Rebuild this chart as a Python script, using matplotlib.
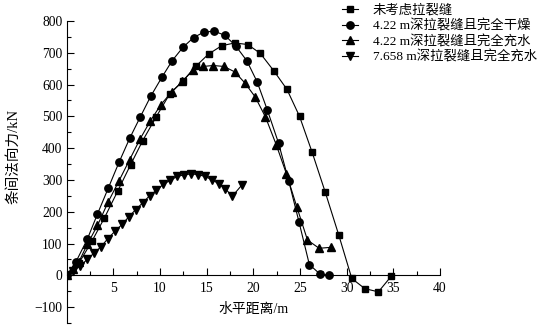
import matplotlib
matplotlib.use("Agg")
import matplotlib.pyplot as plt
from matplotlib.ticker import MultipleLocator, FixedLocator

plt.rcParams["font.family"] = ["Liberation Serif", "Noto Sans CJK SC"]
plt.rcParams["axes.unicode_minus"] = True

# 未考虑拉裂缝
x_nocrack = [0, 1.3, 2.7, 4.05, 5.45, 6.85, 8.15, 9.6, 11.05, 12.45, 13.85, 15.2, 16.6,
             18.0, 19.4, 20.75, 22.2, 23.6, 24.95, 26.3, 27.7, 29.15, 30.55, 31.95, 33.4, 34.8]
y_nocrack = [0, 38, 107, 181, 264, 348, 424, 499, 571, 611, 658, 696, 722,
             731, 726, 698, 643, 585, 500, 387, 262, 127, -10, -42, -52, -2]

# 4.22 m深拉裂缝且完全干燥
x_dry = [0, 1.0, 2.2, 3.3, 4.45, 5.6, 6.75, 7.9, 9.0, 10.2, 11.3, 12.45, 13.6,
         14.7, 15.8, 16.95, 18.1, 19.3, 20.4, 21.5, 22.7, 23.8, 24.9, 26.0, 27.1, 28.1]
y_dry = [0, 43, 113, 193, 274, 355, 431, 499, 563, 623, 675, 717, 748,
         765, 768, 755, 722, 675, 609, 520, 416, 296, 167, 34, 5, 0]

# 4.22 m深拉裂缝且完全充水
x_wet = [0, 0.65, 1.3, 2.2, 3.3, 4.45, 5.6, 6.75, 7.85, 8.95, 10.1, 11.25, 12.4, 13.5,
         14.6, 15.7, 16.85, 18.0, 19.1, 20.2, 21.3, 22.45, 23.55, 24.65, 25.8, 27.05, 28.3]
y_wet = [0, 20, 42, 97, 157, 231, 297, 364, 428, 485, 537, 577, 610, 645,
         657, 660, 657, 640, 605, 561, 498, 411, 319, 216, 111, 85, 88]

# 7.658 m深拉裂缝且完全充水
x_deep = [0, 0.64, 1.43, 2.2, 2.97, 3.68, 4.4, 5.18, 5.93, 6.65, 7.4, 8.15, 8.9, 9.6,
          10.35, 11.1, 11.85, 12.57, 13.3, 14.07, 14.8, 15.55, 16.3, 17.0, 17.75, 18.8]
y_deep = [0, 14, 29, 50, 71, 90, 115, 139, 160, 184, 207, 228, 251, 267,
          286, 299, 311, 316, 319, 317, 311, 301, 288, 272, 249, 285]

labels = ["未考虑拉裂缝", "4.22 m深拉裂缝且完全干燥",
          "4.22 m深拉裂缝且完全充水", "7.658 m深拉裂缝且完全充水"]

fig = plt.figure(figsize=(5.4, 3.26), dpi=100)
ax = fig.add_axes([0.1235, 0.0092, 0.6913, 0.9264])

kw = dict(color="black", linewidth=0.8)
ax.plot(x_nocrack, y_nocrack, marker="s", markersize=4.6, label=labels[0], **kw)
ax.plot(x_dry, y_dry, marker="o", markersize=5.3, label=labels[1], **kw)
ax.plot(x_wet, y_wet, marker="^", markersize=5.8, label=labels[2], **kw)
ax.plot(x_deep, y_deep, marker="v", markersize=5.8, label=labels[3], **kw)

ax.set_xlim(0, 40)
ax.set_ylim(-150, 800)
ax.spines["top"].set_visible(False)
ax.spines["right"].set_visible(False)
ax.spines["left"].set_position(("data", 0))
ax.spines["bottom"].set_position(("data", 0))
for s in ("left", "bottom"):
    ax.spines[s].set_linewidth(0.8)

ax.xaxis.set_major_locator(FixedLocator([5, 10, 15, 20, 25, 30, 35, 40]))
ax.xaxis.set_minor_locator(MultipleLocator(2.5))
ax.yaxis.set_major_locator(MultipleLocator(100))
ax.yaxis.set_minor_locator(MultipleLocator(50))
ax.tick_params(which="both", direction="in", labelsize=9.8, width=0.8)
ax.tick_params(which="major", length=5)
ax.tick_params(which="minor", length=3)
ax.tick_params(axis="x", pad=5)
ax.tick_params(axis="y", pad=3)

ax.set_xlabel("水平距离/m", fontsize=10)
ax.xaxis.set_label_coords(0.5, 0.065)
ax.set_ylabel("条间法向力/kN", fontsize=10.5)
ax.yaxis.set_label_coords(-0.125, 0.55)

fig.legend(loc="upper left", bbox_to_anchor=(0.624, 1.004), frameon=False,
           fontsize=9.6, handlelength=1.2, handletextpad=1.1, labelspacing=0.2,
           borderaxespad=0)

fig.savefig("out.png", dpi=100)
